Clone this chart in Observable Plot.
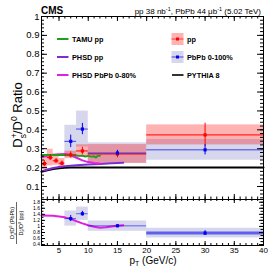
<!DOCTYPE html>
<html><head><meta charset="utf-8">
<script src="https://cdn.jsdelivr.net/npm/d3@7"></script>
<script src="https://cdn.jsdelivr.net/npm/@observablehq/plot@0.6"></script>
<style>
body{margin:0;background:#fff;}
#c{position:relative;width:274px;height:266px;}
#c svg{position:absolute;left:0;top:0;background:transparent;overflow:visible;}
</style></head><body><div id="c"></div>
<script>
// ---- data ----
const ppPt=[2.5,3.5,4.5,5.5,7,9,15,30];
const ppLo=[2,3,4,5,6,8,10,20];
const ppHi=[3,4,5,6,8,10,20,40];
const ppVal=[0.221,0.253,0.236,0.223,0.267,0.288,0.272,0.373];
const ppStat=[0.016,0.016,0.012,0.012,0.016,0.02,0.02,0.062];
const ppSys=[0.032,0.044,0.024,0.025,0.02,0.033,0.05,0.053];

const aaPt=[7,9,15,30];
const aaLo=[6,8,10,20];
const aaHi=[8,10,20,40];
const aaVal=[0.339,0.404,0.277,0.294];
const aaStat=[0.033,0.03,0.012,0.027];
const aaSys=[0.085,0.095,0.054,0.055];

const rVal=[1.26,1.42,1.02,0.78];
const rStat=[0.1,0.08,0.04,0.08];
const rSysLo=[0.25,0.22,0.18,0.16];
const rSysHi=[0.25,0.22,0.16,0.16];

const tamuPt=[2,3,4,5,6,7,8,8.5,9,9.5,10,10.5,11,11.3,11.6,12];
const tamuVal=[0.267,0.267,0.267,0.267,0.267,0.266,0.264,0.262,0.263,0.259,0.262,0.258,0.26,0.253,0.262,0.263];
const phsdPpPt=[2,3,4,5,6,8,10,12,14,16];
const phsdPpVal=[0.18,0.19,0.198,0.203,0.207,0.212,0.216,0.219,0.223,0.226];
const phsdAaPt=[2,3,4,5,6,7,8,9,10,11,12];
const phsdAaVal=[0.255,0.262,0.268,0.271,0.272,0.268,0.252,0.238,0.229,0.224,0.222];
const pythiaPt=[2,3,4,5,6,7,40];
const pythiaVal=[0.178,0.186,0.192,0.196,0.199,0.2,0.2];
const phsdRatioPt=[2,4,5,6,7,8,9,10,11,12,13,14,15,16];
const phsdRatioVal=[1.36,1.35,1.33,1.3,1.25,1.17,1.1,1.04,0.99,0.96,0.97,1.0,1.02,1.04];

const xTickLabels=[5,10,15,20,25,30,35,40];
const yTopTickLabels=[0.1,0.2,0.3,0.4,0.5,0.6,0.7,0.8,0.9,1];
const yBotTickLabels=[0.4,0.6,0.8,1,1.2,1.4,1.6,1.8];

// ---- colours ----
const RED="#ff0000", BLUE="#0000ee", GREEN="#1f9e1f", PURPLE="#7b2fd0", MAG="#e020e0";
const FONT="Liberation Sans, Arial, Helvetica, sans-serif";

const ppRows=ppPt.map((p,i)=>({pt:p,lo:ppLo[i],hi:ppHi[i],v:ppVal[i],stat:ppStat[i],sys:ppSys[i]}));
const aaRows=aaPt.map((p,i)=>({pt:p,lo:aaLo[i],hi:aaHi[i],v:aaVal[i],stat:aaStat[i],sys:aaSys[i]}));
const rRows=aaPt.map((p,i)=>({pt:p,lo:aaLo[i],hi:aaHi[i],v:rVal[i],stat:rStat[i],sl:rSysLo[i],sh:rSysHi[i]}));
const curve=(xs,ys)=>xs.map((x,i)=>({x,y:ys[i]}));

const W=274,H=266,ML=41,MR=11;
const FW=W-ML-MR;
const top1=16, bot1=199, bot2=245;
const FH1=bot1-top1, FH2=bot2-bot1;
const xMinor=d3.range(2,41,1);
const yMinorTop=d3.range(0.04,1.0001,0.02);
const yMinorBot=d3.range(0.4,1.8001,0.1);

function ticks(fh,xs,len,yv,ylen){
  return [
    Plot.tickX(xs,{x:d=>d,insetTop:fh-len,stroke:"black"}),
    Plot.tickX(xs,{x:d=>d,insetBottom:fh-len,stroke:"black"}),
    Plot.tickY(yv,{y:d=>d,insetRight:FW-ylen,stroke:"black"}),
    Plot.tickY(yv,{y:d=>d,insetLeft:FW-ylen,stroke:"black"})
  ];
}

const upper=Plot.plot({
  width:W,height:H,marginLeft:ML,marginRight:MR,marginTop:top1,marginBottom:H-bot1,
  style:{background:"transparent",fontFamily:FONT,color:"black"},
  x:{domain:[2,40],axis:null},
  y:{domain:[0.031,1],axis:null},
  marks:[
    Plot.rect(aaRows,{x1:"lo",x2:"hi",y1:d=>d.v-d.sys,y2:d=>d.v+d.sys,fill:"#1a1a99",fillOpacity:0.18}),
    Plot.rect(ppRows,{x1:"lo",x2:"hi",y1:d=>d.v-d.sys,y2:d=>d.v+d.sys,fill:RED,fillOpacity:0.3}),
    Plot.line(curve(pythiaPt,pythiaVal),{x:"x",y:"y",stroke:"black",strokeWidth:2}),
    Plot.line(curve(phsdPpPt,phsdPpVal),{x:"x",y:"y",stroke:PURPLE,strokeWidth:2}),
    Plot.line(curve(phsdAaPt,phsdAaVal),{x:"x",y:"y",stroke:MAG,strokeWidth:2}),
    Plot.line(curve(tamuPt,tamuVal),{x:"x",y:"y",stroke:GREEN,strokeWidth:2}),
    Plot.ruleY(ppRows,{y:"v",x1:"lo",x2:"hi",stroke:RED,strokeWidth:1}),
    Plot.ruleX(ppRows,{x:"pt",y1:d=>d.v-d.stat,y2:d=>d.v+d.stat,stroke:RED,strokeWidth:1}),
    Plot.ruleY(aaRows,{y:"v",x1:"lo",x2:"hi",stroke:BLUE,strokeWidth:1,strokeOpacity:0.7}),
    Plot.ruleX(aaRows,{x:"pt",y1:d=>d.v-d.stat,y2:d=>d.v+d.stat,stroke:BLUE,strokeWidth:1}),
    Plot.dot(ppRows,{x:"pt",y:"v",symbol:"square",r:1.8,fill:RED}),
    Plot.dot(aaRows,{x:"pt",y:"v",symbol:"square",r:1.8,fill:BLUE}),
    Plot.frame({stroke:"black"}),
    ...ticks(FH1,xMinor,2.5,yMinorTop,3),
    ...ticks(FH1,xTickLabels,5,yTopTickLabels,6),
    Plot.axisY({ticks:yTopTickLabels,tickSize:0,tickPadding:2,fontSize:9.5,label:null,
      tickFormat:d=>d===1?"1":d.toFixed(1)})
  ]
});

const lower=Plot.plot({
  width:W,height:H,marginLeft:ML,marginRight:MR,marginTop:bot1,marginBottom:H-bot2,
  style:{background:"transparent",fontFamily:FONT,color:"black"},
  x:{domain:[2,40],axis:null},
  y:{domain:[0.37,1.89],axis:null},
  marks:[
    Plot.rect(rRows,{x1:"lo",x2:"hi",y1:d=>d.v-d.sl,y2:d=>d.v+d.sh,fill:"#1a1a99",fillOpacity:0.18}),
    Plot.line(curve(phsdRatioPt,phsdRatioVal),{x:"x",y:"y",stroke:MAG,strokeWidth:2}),
    Plot.ruleY(rRows,{y:"v",x1:"lo",x2:"hi",stroke:BLUE,strokeOpacity:0.55,strokeWidth:d=>d.pt===30?3:1}),
    Plot.ruleX(rRows,{x:"pt",y1:d=>d.v-d.stat,y2:d=>d.v+d.stat,stroke:BLUE,strokeWidth:1}),
    Plot.dot(rRows,{x:"pt",y:"v",symbol:"square",r:1.8,fill:BLUE}),
    Plot.frame({stroke:"black"}),
    ...ticks(FH2,xMinor,2,yMinorBot,2.5),
    ...ticks(FH2,xTickLabels,4,yBotTickLabels,4),
    Plot.axisY({ticks:yBotTickLabels,tickSize:0,tickPadding:1.5,fontSize:5,label:null,
      tickFormat:d=>String(d)}),
    Plot.axisX({ticks:xTickLabels,tickSize:0,tickPadding:2,fontSize:8,label:null})
  ]
});

const c=document.getElementById("c");
c.appendChild(upper);
c.appendChild(lower);

// ---- text overlay ----
const ov=d3.select(c).append("svg").attr("width",W).attr("height",H)
  .style("font-family",FONT);

ov.append("text").attr("x",41).attr("y",14).attr("font-size",10).attr("font-weight","bold").text("CMS");

const hdr=ov.append("text").attr("x",261).attr("y",13.5).attr("font-size",8).attr("text-anchor","end");
hdr.append("tspan").text("pp 38 nb");
hdr.append("tspan").attr("dy",-2.8).attr("font-size",5.5).text("-1");
hdr.append("tspan").attr("dy",2.8).text(", PbPb 44 μb");
hdr.append("tspan").attr("dy",-2.8).attr("font-size",5.5).text("-1");
hdr.append("tspan").attr("dy",2.8).text(" (5.02 TeV)");

// y title (upper)
const yt=ov.append("text").attr("transform","translate(22,115) rotate(-90)")
  .attr("text-anchor","middle").attr("font-size",13);
yt.append("tspan").text("D");
yt.append("tspan").attr("dy",-5).attr("font-size",8.5).text("+");
yt.append("tspan").attr("dx",-5).attr("dy",8.5).attr("font-size",8.5).text("s");
yt.append("tspan").attr("dy",-3.5).text("/D");
yt.append("tspan").attr("dy",-5).attr("font-size",8.5).text("0");
yt.append("tspan").attr("dy",5).text(" Ratio");

// y title (lower) as fraction
function ratioLabel(x,suffix){
  const t=ov.append("text").attr("transform",`translate(${x},223) rotate(-90)`)
    .attr("text-anchor","middle").attr("font-size",5.5);
  t.append("tspan").text("D");
  t.append("tspan").attr("dy",-2).attr("font-size",3.8).text("+");
  t.append("tspan").attr("dx",-2.2).attr("dy",3.5).attr("font-size",3.8).text("s");
  t.append("tspan").attr("dy",-1.5).text("/D");
  t.append("tspan").attr("dy",-2).attr("font-size",3.8).text("0");
  t.append("tspan").attr("dy",2).text(" "+suffix);
}
ratioLabel(14,"(PbPb)");
ratioLabel(22.5,"(pp)");
ov.append("line").attr("x1",16.5).attr("x2",16.5).attr("y1",202).attr("y2",244).attr("stroke","black").attr("stroke-width",0.6);

// x title
const xt=ov.append("text").attr("x",153).attr("y",263.5).attr("text-anchor","middle").attr("font-size",10);
xt.append("tspan").text("p");
xt.append("tspan").attr("dy",2.2).attr("font-size",7).text("T");
xt.append("tspan").attr("dy",-2.2).text(" (GeV/c)");

// ---- legend ----
const legLines=[["TAMU pp",GREEN],["PHSD pp",PURPLE],["PHSD PbPb 0-80%",MAG]];
const legRows=[39,57,75];
legLines.forEach(([lab,col],i)=>{
  const y=legRows[i];
  ov.append("line").attr("x1",57).attr("x2",68.5).attr("y1",y).attr("y2",y).attr("stroke",col).attr("stroke-width",2);
  ov.append("text").attr("x",72).attr("y",y+2.6).attr("font-size",7.3).attr("font-weight","bold").text(lab);
});
const legBoxes=[["pp",RED,"#ff0000",0.3],["PbPb 0-100%",BLUE,"#1a1a99",0.18]];
legBoxes.forEach(([lab,col,fill,op],i)=>{
  const y=legRows[i];
  ov.append("rect").attr("x",171.5).attr("y",y-6).attr("width",12).attr("height",12).attr("fill",fill).attr("fill-opacity",op);
  ov.append("line").attr("x1",171.5).attr("x2",183.5).attr("y1",y).attr("y2",y).attr("stroke",col).attr("stroke-width",1).attr("stroke-opacity",0.7);
  ov.append("rect").attr("x",176).attr("y",y-1.5).attr("width",3).attr("height",3).attr("fill",col);
  ov.append("text").attr("x",187).attr("y",y+2.6).attr("font-size",7.3).attr("font-weight","bold").text(lab);
});
ov.append("line").attr("x1",172).attr("x2",183.5).attr("y1",legRows[2]).attr("y2",legRows[2]).attr("stroke","#333").attr("stroke-width",2);
ov.append("text").attr("x",187).attr("y",legRows[2]+2.6).attr("font-size",7.3).attr("font-weight","bold").text("PYTHIA 8");
</script></body></html>
